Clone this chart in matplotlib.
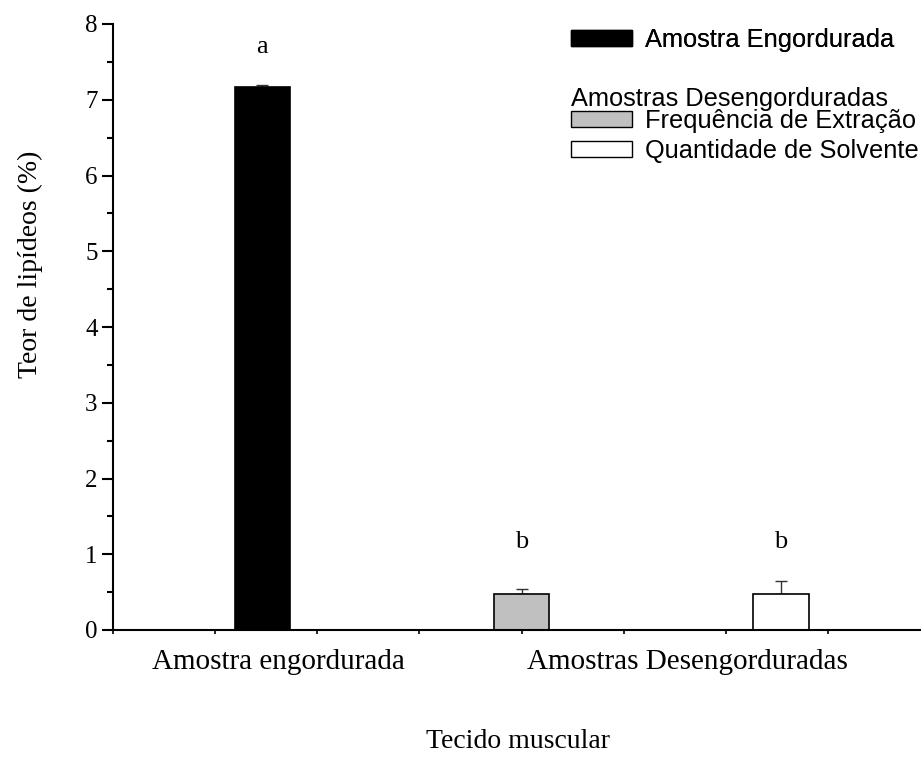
# -*- coding: utf-8 -*-
"""Teor de lipídeos - barras com erro."""
import matplotlib
matplotlib.use("Agg")
import matplotlib.pyplot as plt
from matplotlib.patches import Patch
from matplotlib.ticker import MultipleLocator
import numpy as np

# dados
grupos = ["Amostra Engordurada", "Frequência de Extração", "Quantidade de Solvente"]
titulo_legenda = "Amostras Desengorduradas"
teor = [7.17, 0.47, 0.47]
erro = [0.02, 0.07, 0.18]
letras = ["a", "b", "b"]
cores = ["black", "#c0c0c0", "white"]
categorias = ["Amostra engordurada", "Amostras Desengorduradas"]

serif = ["Liberation Serif", "DejaVu Serif"]
sans = ["Liberation Sans", "DejaVu Sans"]

fig = plt.figure(figsize=(9.21, 7.73), dpi=100)
W, H = 921, 773
ax = fig.add_axes([113 / W, (H - 630) / H, (W - 113) / W, (630 - 24) / H])

# posições das barras no eixo x (unidades dos ticks)
xpos = np.array([1.46, 4.0, 6.54])
largura = 0.54

ax.bar(xpos, teor, width=largura, color=cores, edgecolor="black", linewidth=1.2, zorder=2)
ax.errorbar(xpos, teor, yerr=[np.zeros(3), erro], fmt="none", ecolor="#333333",
            elinewidth=1.0, capsize=4, capthick=1.0, zorder=1)

for x, y, l in zip(xpos, teor, letras):
    ax.text(x, 7.7 if y > 5 else 1.16, l, ha="center", va="center",
            fontsize=19, family=serif)

ax.set_xlim(0, 7.91)
ax.set_ylim(0, 8)
ax.spines["top"].set_visible(False)
ax.spines["right"].set_visible(False)
ax.spines["left"].set_linewidth(1.5)
ax.spines["bottom"].set_linewidth(1.5)

ax.set_xticks(np.arange(0, 8))
ax.set_xticklabels([])
ax.tick_params(axis="x", direction="out", length=3, width=1.2)
ax.yaxis.set_major_locator(MultipleLocator(1))
ax.yaxis.set_minor_locator(MultipleLocator(0.5))
ax.tick_params(axis="y", which="major", direction="out", length=8, width=1.5,
               labelsize=18, pad=3)
ax.tick_params(axis="y", which="minor", direction="out", length=4, width=1.5)
for t in ax.get_yticklabels():
    t.set_family(serif)

# rótulos das categorias
ax.text(1.62, -0.42, categorias[0], ha="center", va="center", fontsize=21, family=serif)
ax.text(5.62, -0.42, categorias[1], ha="center", va="center", fontsize=21, family=serif)

fig.text(518 / W, 1 - 741 / H, "Tecido muscular", ha="center", va="center",
         fontsize=20, family=serif)
fig.text(30 / W, 1 - 264 / H, "Teor de lipídeos (%)", ha="center", va="center",
         rotation=90, fontsize=20, family=serif)

# legenda
fs = 18.3
h1 = [Patch(facecolor=cores[0], edgecolor="black", linewidth=1)]
leg1 = fig.legend(h1, [grupos[0]], loc="upper left", bbox_to_anchor=(571 / W, 1 - 28 / H),
                  frameon=False, borderpad=0, borderaxespad=0, handlelength=2.4,
                  handleheight=0.58, handletextpad=0.5,
                  prop={"family": sans, "size": fs})
fig.text(571 / W, 1 - 99 / H, titulo_legenda, ha="left", va="center",
         fontsize=fs, family=sans)
h2 = [Patch(facecolor=cores[1], edgecolor="black", linewidth=1),
      Patch(facecolor=cores[2], edgecolor="black", linewidth=1)]
leg2 = fig.legend(h2, grupos[1:], loc="upper left", bbox_to_anchor=(571 / W, 1 - 109 / H),
                  frameon=False, borderpad=0, borderaxespad=0, handlelength=2.4,
                  handleheight=0.58, handletextpad=0.5, labelspacing=0.22,
                  prop={"family": sans, "size": fs})
fig.add_artist(leg1)

fig.savefig("out.png", dpi=100)
